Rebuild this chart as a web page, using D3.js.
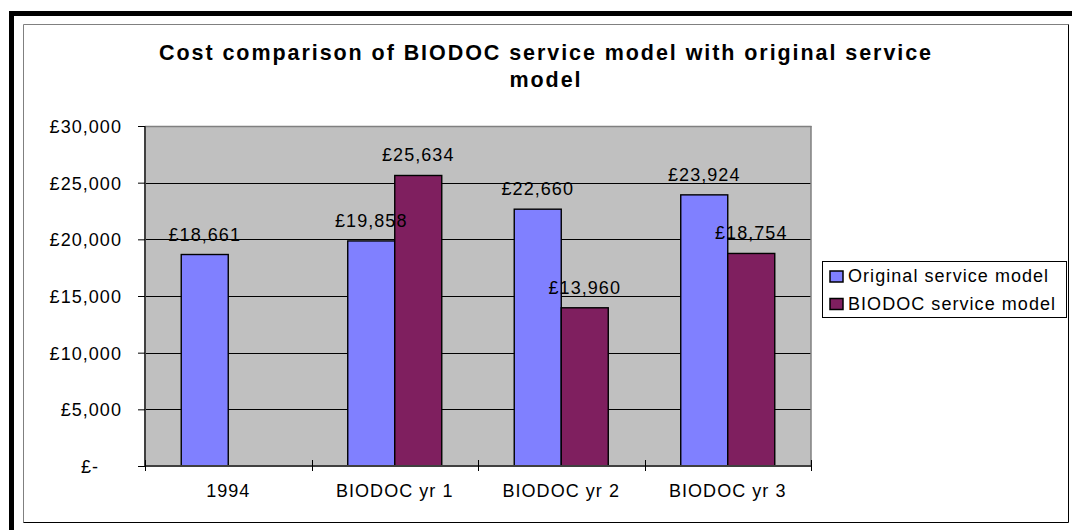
<!DOCTYPE html>
<html><head><meta charset="utf-8">
<script src="https://cdn.jsdelivr.net/npm/d3@7"></script>
<style>body{margin:0;background:#fff;overflow:hidden} text{font-family:Arial,"Liberation Sans",sans-serif;fill:#000}</style>
</head><body><svg id="c" width="1072" height="530"></svg>
<script>
const categories = ["1994", "BIODOC yr 1", "BIODOC yr 2", "BIODOC yr 3"];
const seriesNames = ["Original service model", "BIODOC service model"];
const originalValues = [18661, 19858, 22660, 23924];
const biodocValues = [null, 25634, 13960, 18754];
const yTickValues = [0, 5000, 10000, 15000, 20000, 25000, 30000];
const yTickLabels = ["£-", "£5,000", "£10,000", "£15,000", "£20,000", "£25,000", "£30,000"];
const titleLines = ["Cost comparison of BIODOC service model with original service", "model"];
const colors = ["#8080ff", "#7f1f5f"];

const svg = d3.select("#c");
const W = 1072, H = 530;
const P = {left: 145, right: 811, top: 126, bottom: 466};
const FS = "18px", LS = "1.05px";

svg.append("rect").attr("width", W).attr("height", H).attr("fill", "#fff");
// outer heavy frame
svg.append("rect").attr("x", 9).attr("y", 11).attr("width", 5).attr("height", H - 11).attr("fill", "#000");
svg.append("rect").attr("x", 9).attr("y", 11).attr("width", W - 9).attr("height", 5).attr("fill", "#000");
// chart area border
svg.append("line").attr("x1", 23.5).attr("y1", 24.5).attr("x2", 1068.5).attr("y2", 24.5).attr("stroke", "#808080");
svg.append("line").attr("x1", 23.5).attr("y1", 24.5).attr("x2", 23.5).attr("y2", 522.5).attr("stroke", "#808080");
svg.append("line").attr("x1", 1068.5).attr("y1", 24.5).attr("x2", 1068.5).attr("y2", 522.5).attr("stroke", "#000");
svg.append("line").attr("x1", 23.5).attr("y1", 522.5).attr("x2", 1068.5).attr("y2", 522.5).attr("stroke", "#000");

// title
const title = svg.append("g");
const t1 = title.append("text").attr("x", 546).attr("y", 60).attr("text-anchor", "middle")
  .style("font-weight", "bold").style("font-size", "21.5px").text(titleLines[0]);
const nat = t1.node().getComputedTextLength();
const tls = (772 - nat) / (titleLines[0].length - 1);
t1.style("letter-spacing", tls + "px");
title.append("text").attr("x", 546).attr("y", 87).attr("text-anchor", "middle")
  .style("font-weight", "bold").style("font-size", "21.5px").style("letter-spacing", tls + "px").text(titleLines[1]);

const x0 = d3.scaleBand().domain(categories).range([P.left, P.right]).paddingInner(0).paddingOuter(0);
const x1 = d3.scaleBand().domain(seriesNames).range([0, x0.bandwidth()]).paddingInner(0).paddingOuter(0.771);
const y = d3.scaleLinear().domain([0, 30000]).range([P.bottom, P.top]);

// plot area
svg.append("rect").attr("x", P.left).attr("y", P.top).attr("width", P.right - P.left).attr("height", P.bottom - P.top)
  .attr("fill", "#c0c0c0");
svg.append("g").selectAll("line").data(yTickValues.filter(v => v > 0 && v < 30000)).join("line")
  .attr("x1", P.left).attr("x2", P.right).attr("y1", d => Math.round(y(d)) + 0.5).attr("y2", d => Math.round(y(d)) + 0.5)
  .attr("stroke", "#000").attr("stroke-width", 1);
svg.append("line").attr("x1", P.left).attr("x2", P.right + 0.5).attr("y1", P.top + 0.5).attr("y2", P.top + 0.5).attr("stroke", "#808080").attr("stroke-width", 1.5);
svg.append("line").attr("x1", P.right).attr("x2", P.right).attr("y1", P.top).attr("y2", P.bottom).attr("stroke", "#808080").attr("stroke-width", 1.5);

// bars
const seriesData = [originalValues, biodocValues];
const barG = svg.append("g");
seriesNames.forEach((s, si) => {
  barG.selectAll("rect.s" + si).data(categories.map((c, i) => ({c, v: seriesData[si][i]})).filter(d => d.v != null))
    .join("rect").attr("class", "s" + si)
    .attr("x", d => x0(d.c) + x1(s)).attr("width", x1.bandwidth())
    .attr("y", d => y(d.v)).attr("height", d => y(0) - y(d.v))
    .attr("fill", colors[si]).attr("stroke", "#000").attr("stroke-width", 1.4);
});

// axes lines
svg.append("line").attr("x1", P.left).attr("x2", P.left).attr("y1", P.top).attr("y2", P.bottom + 1).attr("stroke", "#404040").attr("stroke-width", 2);
svg.append("line").attr("x1", P.left - 1).attr("x2", P.right + 1).attr("y1", P.bottom).attr("y2", P.bottom).attr("stroke", "#404040").attr("stroke-width", 2);

// y axis
const yAxis = d3.axisLeft(y).tickValues(yTickValues).tickSize(7).tickPadding(17)
  .tickFormat((d, i) => yTickLabels[i]);
const ya = svg.append("g").attr("transform", `translate(${P.left},0)`).call(yAxis);
ya.select(".domain").remove();
ya.selectAll(".tick line").attr("stroke", "#000");
ya.selectAll(".tick text").style("font-size", FS).style("letter-spacing", LS).attr("fill", "#000")
  .attr("font-family", null).attr("dy", "0.36em")
  .attr("x", (d) => d === 0 ? -46 : -23);

// x axis ticks at category boundaries
const bounds = categories.map(c => x0(c)).concat([P.right]);
svg.append("g").selectAll("line").data(bounds).join("line")
  .attr("x1", d => Math.round(d) + 0.5).attr("x2", d => Math.round(d) + 0.5).attr("y1", P.bottom - 6).attr("y2", P.bottom + 5)
  .attr("stroke", "#000");
svg.append("g").selectAll("text").data(categories).join("text")
  .attr("x", d => x0(d) + x0.bandwidth() / 2).attr("y", 497).attr("text-anchor", "middle")
  .style("font-size", FS).style("letter-spacing", LS).text(d => d);

// data labels
const fmt = d3.format(",");
seriesNames.forEach((s, si) => {
  svg.append("g").selectAll("text").data(categories.map((c, i) => ({c, v: seriesData[si][i]})).filter(d => d.v != null))
    .join("text").attr("x", d => x0(d.c) + x1(s) + x1.bandwidth() / 2).attr("y", d => y(d.v) - 14)
    .attr("text-anchor", "middle").style("font-size", FS).style("letter-spacing", LS)
    .text(d => "£" + fmt(d.v));
});

// legend
const lg = svg.append("g");
lg.append("rect").attr("x", 822.5).attr("y", 261.5).attr("width", 244).attr("height", 56)
  .attr("fill", "#fff").attr("stroke", "#000").attr("stroke-width", 1);
seriesNames.forEach((s, i) => {
  const yy = 271 + i * 27.5;
  lg.append("rect").attr("x", 830).attr("y", yy).attr("width", 13).attr("height", 11)
    .attr("fill", colors[i]).attr("stroke", "#000").attr("stroke-width", 1.5);
  lg.append("text").attr("x", 848).attr("y", yy + 11).style("font-size", FS).style("letter-spacing", LS).text(s);
});
</script></body></html>
